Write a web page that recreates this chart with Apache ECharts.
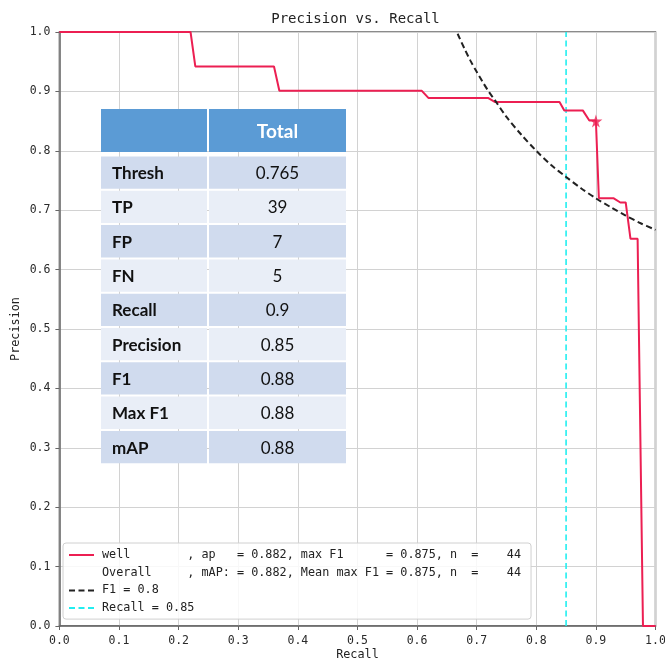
<!DOCTYPE html>
<html><head><meta charset="utf-8">
<script src="https://cdn.jsdelivr.net/npm/echarts@6/dist/echarts.min.js"></script>
<style>html,body{margin:0;padding:0;background:#fff}#c{width:665px;height:660px}</style>
</head><body><div id="c"></div>
<script>
// ---- data ----
const recall    = [0, 0.220, 0.228, 0.360, 0.369, 0.608, 0.619, 0.719, 0.731, 0.839, 0.847, 0.878, 0.889, 0.900, 0.905, 0.930, 0.941, 0.950, 0.958, 0.970, 0.979, 1.0];
const precision = [1.0, 1.0, 0.942, 0.942, 0.901, 0.901, 0.889, 0.889, 0.882, 0.882, 0.868, 0.868, 0.851, 0.851, 0.720, 0.720, 0.713, 0.713, 0.652, 0.652, 0.0, 0.0];
const f1Recall    = [0.668, 0.68, 0.69, 0.70, 0.71, 0.72, 0.73, 0.75, 0.775, 0.80, 0.825, 0.85, 0.875, 0.90, 0.925, 0.95, 0.975, 1.0];
const f1Precision = [0.997, 0.971, 0.951, 0.933, 0.916, 0.900, 0.886, 0.857, 0.827, 0.800, 0.776, 0.756, 0.737, 0.720, 0.705, 0.691, 0.678, 0.667];
const recallLineX = [0.85, 0.85];
const recallLineY = [0.0, 1.0];
const bestPoint = [0.9, 0.85];
const legendLabels = [
  "well        , ap   = 0.882, max F1      = 0.875, n  =    44",
  "Overall     , mAP: = 0.882, Mean max F1 = 0.875, n  =    44",
  "F1 = 0.8",
  "Recall = 0.85"
];
const tableHeader = ["", "Total"];
const tableLabels = ["Thresh", "TP", "FP", "FN", "Recall", "Precision", "F1", "Max F1", "mAP"];
const tableValues = ["0.765", "39", "7", "5", "0.9", "0.85", "0.88", "0.88", "0.88"];

// ---- chart ----
const mono = "'DejaVu Sans Mono', monospace";
const zip = (a, b) => a.map((v, i) => [v, b[i]]);
const fmt = v => (Math.round(v * 10) / 10).toFixed(1);

const T = {x: 101, y: 109, c1: 106, c2: 137, sep: 2, headH: 43, rowTop: 156.5, rowH: 34.3};
const graphics = [];
graphics.push({type: 'rect', shape: {x: T.x, y: T.y, width: T.c1, height: T.headH}, style: {fill: '#5b9bd5'}, z: 100});
graphics.push({type: 'rect', shape: {x: T.x + T.c1 + T.sep, y: T.y, width: T.c2, height: T.headH}, style: {fill: '#5b9bd5'}, z: 100});
graphics.push({type: 'text', x: T.x + T.c1 + T.sep + T.c2 / 2, y: T.y + T.headH / 2 + 1, z: 101,
  style: {text: tableHeader[1], fill: '#fff', font: "bold 19px Lato", textAlign: 'center', textVerticalAlign: 'middle'}});
tableLabels.forEach((lab, i) => {
  const y = T.rowTop + i * T.rowH;
  const fill = i % 2 === 0 ? '#d0dbee' : '#e9eef7';
  graphics.push({type: 'rect', shape: {x: T.x, y: y, width: T.c1, height: T.rowH - T.sep}, style: {fill}, z: 100});
  graphics.push({type: 'rect', shape: {x: T.x + T.c1 + T.sep, y: y, width: T.c2, height: T.rowH - T.sep}, style: {fill}, z: 100});
  graphics.push({type: 'text', x: T.x + 11, y: y + (T.rowH - T.sep) / 2 + 1, z: 101,
    style: {text: lab, fill: '#111', font: "bold 17px Lato", textAlign: 'left', textVerticalAlign: 'middle'}});
  graphics.push({type: 'text', x: T.x + T.c1 + T.sep + T.c2 / 2, y: y + (T.rowH - T.sep) / 2 + 1, z: 101,
    style: {text: tableValues[i], fill: '#111', font: "17px Lato", textAlign: 'center', textVerticalAlign: 'middle'}});
});

const axisCommon = {
  type: 'value', min: 0, max: 1, interval: 0.1,
  nameLocation: 'middle', nameMoveOverlap: false,
  nameTextStyle: {fontFamily: mono, fontSize: 11.8, color: '#222'},
  axisLine: {show: true, onZero: false, lineStyle: {color: '#666', width: 1.5}},
  axisTick: {show: true, length: 4, lineStyle: {color: '#666', width: 1}},
  axisLabel: {fontFamily: mono, fontSize: 11.5, color: '#2a2a2a', formatter: fmt},
  splitLine: {show: true, lineStyle: {color: '#d2d2d2', width: 1}}
};

const option = {
  animation: false,
  backgroundColor: '#fff',
  title: {text: 'Precision vs. Recall', left: 355.5, top: 12, padding: 0, textAlign: 'center',
    textStyle: {fontFamily: mono, fontSize: 14, fontWeight: 'normal', color: '#222'}},
  grid: {left: 59.4, right: 9.5, top: 32, bottom: 34, show: true, borderColor: '#666', borderWidth: 1.5,
    backgroundColor: 'transparent', containLabel: false, outerBoundsMode: 'none'},
  xAxis: Object.assign({}, axisCommon, {name: 'Recall', nameGap: 23, axisLabel: Object.assign({}, axisCommon.axisLabel, {margin: 9})}),
  yAxis: Object.assign({}, axisCommon, {name: 'Precision', nameGap: 37, axisLabel: Object.assign({}, axisCommon.axisLabel, {margin: 9})}),
  legend: {
    orient: 'vertical', left: 63, top: 543,
    padding: [6, 10, 5, 5], itemWidth: 25, itemHeight: 10, itemGap: 5.7,
    backgroundColor: 'rgba(255,255,255,0.85)', borderColor: '#d0d0d0', borderWidth: 1, borderRadius: 3,
    itemStyle: {color: 'rgba(0,0,0,0)', borderColor: 'rgba(0,0,0,0)', borderWidth: 0},
    textStyle: {fontFamily: mono, fontSize: 11.8, color: '#222', padding: [0, 0, 0, 3]},
    data: legendLabels
  },
  graphic: graphics,
  series: [
    {name: legendLabels[0], type: 'line', data: zip(recall, precision), symbol: 'none', z: 3,
      lineStyle: {color: '#ec1f52', width: 2}, itemStyle: {color: '#ec1f52'}},
    {name: legendLabels[1], type: 'line', data: [], symbol: 'none',
      lineStyle: {color: 'rgba(0,0,0,0)', width: 0}, itemStyle: {color: 'rgba(0,0,0,0)'}},
    {name: legendLabels[2], type: 'line', data: zip(f1Recall, f1Precision), symbol: 'none', smooth: 0.3, z: 4,
      lineStyle: {color: '#222', width: 2, type: [6, 3.5]}, itemStyle: {color: '#222'}},
    {name: legendLabels[3], type: 'line', data: zip(recallLineX, recallLineY), symbol: 'none', z: 2,
      lineStyle: {color: '#22eef0', width: 1.6, type: [6, 3.5]}, itemStyle: {color: '#22eef0'}},
    {name: 'best', type: 'scatter', data: [bestPoint], z: 5,
      symbol: 'path://M50,0 L61,35 L98,35 L68,57 L79,91 L50,70 L21,91 L32,57 L2,35 L39,35 Z',
      symbolSize: 13, itemStyle: {color: '#ec1f52'}}
  ]
};
const chart = echarts.init(document.getElementById('c'), null, {renderer: 'canvas'});
chart.setOption(option);
</script>
</body></html>
